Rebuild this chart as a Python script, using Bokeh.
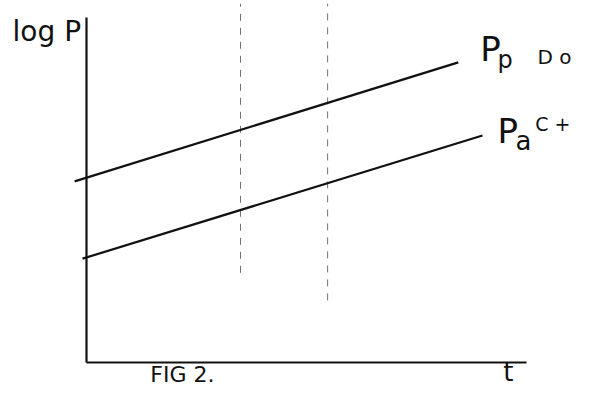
from bokeh.plotting import figure
from bokeh.models import LinearAxis, FixedTicker, Range1d, Label
from bokeh.embed import file_html
from bokeh.resources import INLINE

# ---- data ----
pp_t = [-0.27, 8.45]        # upper line P_p
pp_logp = [5.25, 8.70]
pa_t = [-0.09, 9.00]        # lower line P_a
pa_logp = [3.01, 6.58]
guide_t = [3.50, 5.48]      # faint dashed verticals
guide_top = [10.40, 10.40]
guide_bottom = [2.60, 1.80]
t_axis_end = 10.0
logp_axis_top = 10.0
y_label = "log P"
x_label = "t"
caption = "FIG 2."
curve_names = ["P", "P"]
curve_subs = ["p", "a"]
curve_marks = ["D o", "C +"]

FONT = "DejaVu Sans"
INK = "#111111"

p = figure(width=573, height=390, output_backend="svg", toolbar_location=None,
           x_range=Range1d(-1.9545, 11.068), y_range=Range1d(-0.8116, 10.493),
           x_axis_location=None, y_axis_location=None,
           min_border=0, outline_line_color=None,
           background_fill_color="white", border_fill_color="white")
p.xgrid.visible = False
p.ygrid.visible = False

def bare_axis(loc, bounds):
    return LinearAxis(fixed_location=loc, bounds=bounds, ticker=FixedTicker(ticks=[]),
                      axis_line_width=2.2, axis_line_color=INK,
                      major_tick_line_color=None, minor_tick_line_color=None,
                      major_tick_in=0, major_tick_out=0,
                      major_label_text_font_size="0px", major_label_standoff=0,
                      axis_label_standoff=0)

p.add_layout(bare_axis(0, (0, t_axis_end)), "below")
p.add_layout(bare_axis(0, (0, logp_axis_top)), "left")

# faint dashed guide lines
p.segment(x0=guide_t, y0=guide_bottom, x1=guide_t, y1=guide_top,
          line_color="#444444", line_width=1, line_dash="7 7", line_alpha=0.75)

# the two straight lines
p.line(pp_t, pp_logp, line_color=INK, line_width=2.2)
p.line(pa_t, pa_logp, line_color=INK, line_width=2.2)

def lab(x, y, text, size, **kw):
    p.add_layout(Label(x=x, y=y, text=text, text_font=FONT, text_font_size=size,
                       text_color=INK, **kw))

# curve labels
lab(8.95, 8.52, curve_names[0], "34px")
lab(9.34, 8.36, curve_subs[0], "24px")
lab(10.25, 8.52, curve_marks[0], "20px")
lab(9.34, 6.14, curve_names[1], "34px")
lab(9.75, 6.00, curve_subs[1], "26px")
lab(10.20, 6.58, curve_marks[1], "19px")

# axis labels
lab(-1.68, 9.13, y_label, "28px")
lab(9.59, -0.72, x_label, "26px", text_align="center")
lab(1.45, -0.72, caption, "22px")

open("out.html", "w").write(file_html(p, INLINE))
